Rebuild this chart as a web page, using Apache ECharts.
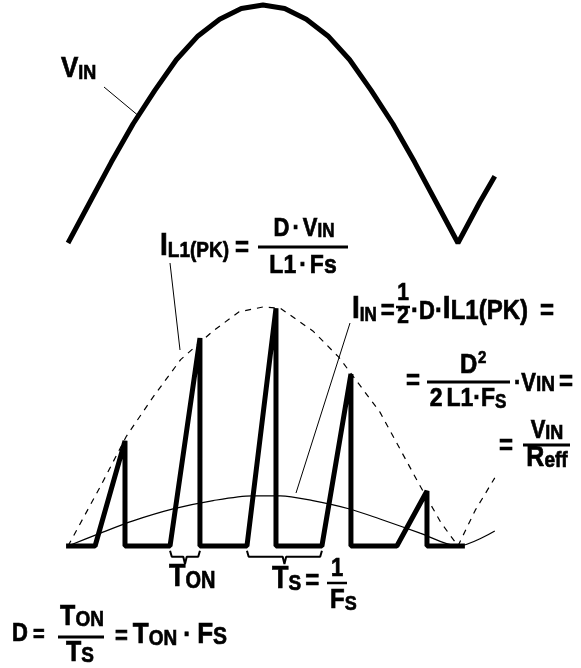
<!DOCTYPE html>
<html><head><meta charset="utf-8">
<script src="https://cdn.jsdelivr.net/npm/echarts@6/dist/echarts.min.js"></script>
<style>html,body{margin:0;padding:0;background:#fff}#c{width:581px;height:668px}</style>
</head><body><div id="c"></div>
<script>
// x: line phase in degrees (0..180 = one rectified half cycle); y: normalised amplitude
const vinDeg = [0,10,20,30,40,50,60,70,80,90,100,110,120,130,140,150,160,170,180,190,197];
const vinVal = [0,0.17,0.34,0.5,0.64,0.77,0.87,0.94,0.985,1,0.985,0.94,0.87,0.77,0.64,0.5,0.34,0.17,0,0.17,0.28];
const envDeg = [0,15,27,39,52,67,79,90,98,113,125,144,162,172,180,188,197];
const envVal = [0,0.25,0.46,0.62,0.78,0.9,0.98,1.0,0.995,0.9,0.79,0.56,0.26,0.1,0,0.15,0.285];
const avgDeg = [0,15,30,48.5,67,85,98,113,130,144,162.5,180,197];
const avgVal = [0,0.054,0.105,0.155,0.19,0.21,0.21,0.19,0.155,0.113,0.054,0,0.063];
const swStart = -0.9, swEnd = 183.2;
const onDeg = [12.5,47.1,82.6,117.2,151.8];
const pkDeg = [26.3,60.9,96.0,130.6,165.7];
const pkVal = [0.44,0.87,0.995,0.72,0.23];

const sw = [[swStart,0]];
onDeg.forEach((d,i)=>{ sw.push([d,0],[pkDeg[i],pkVal[i]],[pkDeg[i],0]); });
sw.push([swEnd,0]);
function brace(a,b){
  const c=(a+b)/2;
  return [[a,-0.02],[a+0.8,-0.045],[c-0.8,-0.045],[c,-0.075],[c+0.8,-0.045],[b-0.8,-0.045],[b,-0.02]];
}
const zip=(xs,ys)=>xs.map((x,i)=>[x,ys[i]]);

const FF = '"Liberation Sans", Arial, sans-serif';
const SY = 1.15;
const SW = 0.6;
function txt(x, base, parts, align) {
  const rich = {}; let s = ''; let maxS = 0;
  parts.forEach((p, i) => {
    const [t, size, low = 0, pl = 0, pr = 0] = p;
    maxS = Math.max(maxS, size);
    rich['p'+i] = { font: 'bold '+size+'px '+FF, fontSize: size, fontWeight:'bold', fontFamily: FF,
      fill:'#000', stroke:'#000', lineWidth:SW, verticalAlign:'bottom', lineHeight: size - 2*low, padding:[0,pr,0,pl] };
    s += '{p'+i+'|'+t+'}';
  });
  return { type:'text', x, y: base + 0.153*maxS*SY, scaleY: SY, silent:true,
    style: { text: s, rich, fill:'#000', stroke:'#000', lineWidth:SW, font:'bold '+maxS+'px '+FF,
      align: align||'left', verticalAlign:'bottom', textAlign: align||'left', textVerticalAlign:'bottom' } };
}
function ln(x1,y1,x2,y2,w){ return {type:'line', silent:true, shape:{x1,y1,x2,y2}, style:{stroke:'#000', lineWidth:w||1}}; }

const graphics = [
  txt(61,79,[['V',26],['IN',18,1]]),
  ln(104,87,140,117,1),
  txt(160,257,[['I',28],['L1(PK)',19,2],['=',24,0,6]]),
  txt(304,238,[['D',22],['·',22,0,3,3],['V',22],['IN',17,1]],'center'),
  ln(258,247,348,247,3),
  txt(303,275,[['L1',23],['·',23,0,3,3],['Fs',23]],'center'),
  ln(170,263,180,350,1),
  txt(352,320,[['I',28],['IN',17,2],['=',24,0,4]]),
  txt(403,302,[['1',21]],'center'),
  ln(396,307,410,307,2.5),
  txt(403,325,[['2',21]],'center'),
  txt(411,320,[['·',24],['D',22],['·',24],['I',28],['L1(PK)',24,2],['=',24,0,12]]),
  ln(350,323,296,493,1),
  txt(406,391,[['=',24]]),
  ln(427,382,510,382,3),
  txt(460,375,[['D',24]]),
  txt(478,364,[['2',15]]),
  txt(468,408,[['2',23,0,0,4],['L1',23],['·',23],['F',23],['S',17,2]],'center'),
  txt(513,392,[['·',22,0,1],['V',22],['IN',19,1],['=',24,0,4]]),
  txt(499,456,[['=',24]]),
  ln(523,445,570,445,3),
  txt(547,440,[['V',22],['IN',18,1]],'center'),
  txt(547,468,[['R',25],['eff',19,2]],'center'),
  txt(169,588,[['T',27],['ON',20,3]]),
  txt(272,590,[['T',27],['S',19,3],['=',24,0,4]]),
  txt(337,578,[['1',22]],'center'),
  ln(327,583,347,583,2.5),
  txt(330,610,[['F',24],['S',18,2]]),
  txt(12,643,[['D',22],['=',20,0,5]]),
  ln(58,637,104,637,3),
  txt(82,627,[['T',25],['ON',19,2]],'center'),
  txt(80,663,[['T',25],['S',19,3]],'center'),
  txt(115,645,[['=',22],['T',26,0,5],['ON',19,2],['·',24,0,6,6],['F',26],['S',21,3]])
];

const chart = echarts.init(document.getElementById('c'), null, {renderer:'canvas'});
const ax = {type:'value', min:-31.4, max:236.8, show:false};
const ay = {type:'value', min:0, max:1, show:false};
const base = {type:'line', showSymbol:false, symbol:'none', silent:true, clip:false, animation:false};
chart.setOption({
  backgroundColor:'#fff',
  animation:false,
  grid:[{left:0,right:0,top:5,height:238},{left:0,right:0,top:307,height:239}],
  xAxis:[Object.assign({gridIndex:0},ax),Object.assign({gridIndex:1},ax)],
  yAxis:[Object.assign({gridIndex:0},ay),Object.assign({gridIndex:1},ay)],
  series:[
    Object.assign({}, base, {name:'VIN', xAxisIndex:0, yAxisIndex:0, data:zip(vinDeg,vinVal), lineStyle:{color:'#000', width:5}}),
    Object.assign({}, base, {name:'IL1(PK) envelope', xAxisIndex:1, yAxisIndex:1, data:zip(envDeg,envVal), lineStyle:{color:'#000', width:1.2, type:[6,6]}}),
    Object.assign({}, base, {name:'IIN', xAxisIndex:1, yAxisIndex:1, data:zip(avgDeg,avgVal), smooth:0.3, lineStyle:{color:'#000', width:1.2}}),
    Object.assign({}, base, {name:'IL1', xAxisIndex:1, yAxisIndex:1, data:sw, lineStyle:{color:'#000', width:5}}),
    Object.assign({}, base, {name:'TON', xAxisIndex:1, yAxisIndex:1, data:brace(onDeg[1],pkDeg[1]), lineStyle:{color:'#000', width:2}}),
    Object.assign({}, base, {name:'TS', xAxisIndex:1, yAxisIndex:1, data:brace(onDeg[2],onDeg[3]), lineStyle:{color:'#000', width:2}})
  ],
  graphic: graphics
});
</script></body></html>
